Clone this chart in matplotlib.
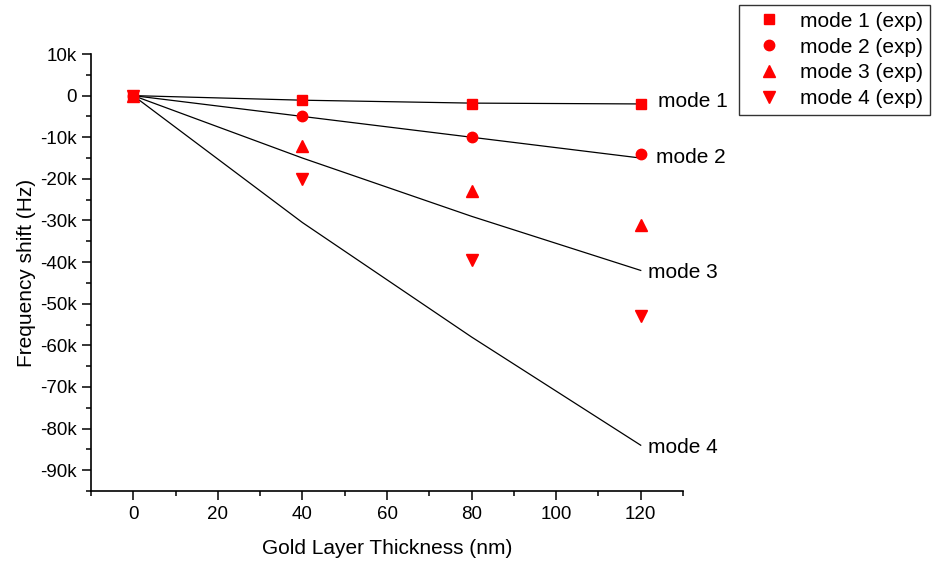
import matplotlib.pyplot as plt
from matplotlib.ticker import MultipleLocator, FuncFormatter

plt.rcParams['font.family'] = ['Liberation Sans', 'DejaVu Sans']

# measured points (experiment)
thickness = [0, 40, 80, 120]
mode1_exp = [0, -1000, -2000, -2000]
mode2_exp = [0, -5000, -10000, -14000]
mode3_exp = [0, -12000, -23000, -31000]
mode4_exp = [0, -20000, -39500, -53000]

# simulated curves
mode1_sim = [0, -1100, -1800, -2000]
mode2_sim = [0, -5000, -10000, -15000]
mode3_sim = [0, -15000, -29000, -42000]
mode4_sim = [0, -30500, -58000, -84000]

curve_labels = ['mode 1', 'mode 2', 'mode 3', 'mode 4']
legend_labels = ['mode 1 (exp)', 'mode 2 (exp)', 'mode 3 (exp)', 'mode 4 (exp)']

fig = plt.figure(figsize=(9.32, 5.65), dpi=100)
ax = fig.add_axes([91/932, 1 - 491/565, (683 - 91)/932, (491 - 54)/565])

# simulation lines
sims = [mode1_sim, mode2_sim, mode3_sim, mode4_sim]
for s in sims:
    ax.plot(thickness, s, color='black', lw=0.9, zorder=1)

# experimental markers
markers = ['s', 'o', '^', 'v']
sizes = [6.5, 7.5, 8, 8]
exps = [mode1_exp, mode2_exp, mode3_exp, mode4_exp]
handles = []
for e, m, ms, lab in zip(exps, markers, sizes, legend_labels):
    h, = ax.plot(thickness, e, linestyle='none', marker=m, ms=ms,
                 color='red', mec='red', label=lab, zorder=2)
    handles.append(h)

# curve labels at the right end
label_pos = [(124, -1500), (123.5, -14800), (121.8, -42500), (121.8, -84500)]
for txt, (x, y) in zip(curve_labels, label_pos):
    ax.text(x, y, txt, fontsize=15, ha='left', va='center', clip_on=False)

ax.set_xlim(-10, 130)
ax.set_ylim(-95000, 10000)
ax.xaxis.set_major_locator(MultipleLocator(20))
ax.xaxis.set_minor_locator(MultipleLocator(10))
ax.yaxis.set_major_locator(MultipleLocator(10000))
ax.yaxis.set_minor_locator(MultipleLocator(5000))
ax.yaxis.set_major_formatter(FuncFormatter(lambda v, p: '0' if v == 0 else f'{int(v/1000)}k'))

ax.spines['top'].set_visible(False)
ax.spines['right'].set_visible(False)
ax.spines['left'].set_linewidth(1.2)
ax.spines['bottom'].set_linewidth(1.2)
ax.tick_params(which='major', length=6.5, width=1.1, labelsize=13.5, direction='out')
ax.tick_params(axis='x', which='major', pad=4)
ax.tick_params(which='minor', length=3.5, width=1.1, direction='out')

ax.set_xlabel('Gold Layer Thickness (nm)', fontsize=15, labelpad=12)
ax.set_ylabel('Frequency shift (Hz)', fontsize=15, labelpad=3)

leg = fig.legend(handles=handles, loc='upper left', bbox_to_anchor=(739/932, 1 - 5/565),
                 fontsize=15, frameon=True, fancybox=False, edgecolor='black',
                 handletextpad=0.41, labelspacing=0.33, borderpad=0.32,
                 handlelength=2.2, borderaxespad=0)
leg.get_frame().set_linewidth(1.0)

fig.savefig('out.png', dpi=100)
